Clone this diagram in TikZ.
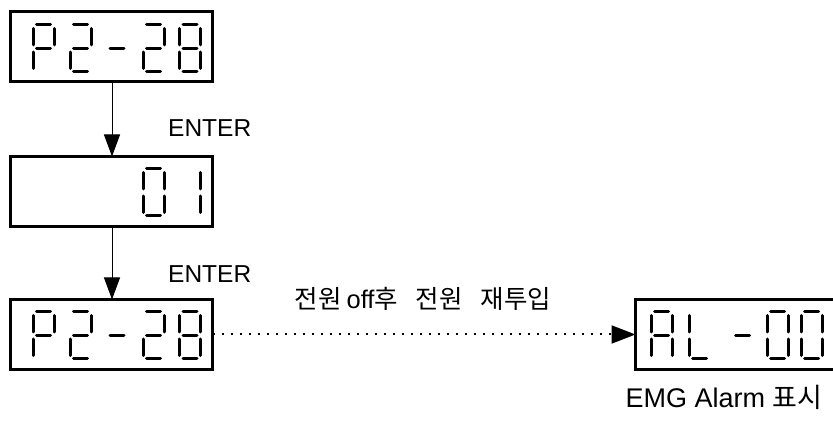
\documentclass[tikz,border=0pt]{standalone}
\usepackage{fontspec}
\usepackage{graphicx}
\setmainfont{Liberation Sans}
\newfontfamily\kr{Noto Sans CJK KR}
\usetikzlibrary{arrows.meta}
\tikzset{
  disp/.style={draw, line width=3pt, rectangle, inner sep=0pt, outer sep=0pt, anchor=north west, minimum height=70pt},
  segl/.style={line width=3pt, line cap=round},
  flow/.style={line width=1pt, -{Triangle[length=22pt,width=16pt]}},
  dotflow/.style={line width=2pt, dash pattern=on 2pt off 7pt, -{Triangle[length=24pt,width=18pt]}},
  lbl/.style={font=\fontsize{24.5}{28}\selectfont, inner sep=0pt}
}
\def\dsega{\draw[segl] (3.5,0)--(17.5,0);}
\def\dsegb{\draw[segl] (21,3.5)--(21,20);}
\def\dsegc{\draw[segl] (21,27)--(21,43.5);}
\def\dsegd{\draw[segl] (3.5,47)--(17.5,47);}
\def\dsege{\draw[segl] (0,27)--(0,43.5);}
\def\dsegf{\draw[segl] (0,3.5)--(0,20);}
\def\dsegg{\draw[segl] (3.5,23.5)--(17.5,23.5);}
\newcommand\sevdig[3]{\begin{scope}[shift={(#1,#2)}]\foreach \s in {#3}{\csname dseg\s\endcsname}\end{scope}}
\begin{document}
\begin{tikzpicture}[x=1pt,y=-1pt]
\useasboundingbox (0,0) rectangle (833,430);
% boxes
\node[disp, minimum width=202pt] (b1) at (10.5,11.5) {};
\node[disp, minimum width=202pt] (b2) at (10.5,156.5) {};
\node[disp, minimum width=202pt] (b3) at (10.5,299.5) {};
\node[disp, minimum width=204pt] (b4) at (635.5,299.5) {};
% box 1: P2-28
\sevdig{33}{25}{a,b,f,g,e}
\sevdig{70}{25}{a,b,g,e,d}
\sevdig{106.5}{25}{g}
\sevdig{143}{25}{a,b,g,e,d}
\sevdig{179.5}{25}{a,b,c,d,e,f,g}
% box 2: 01
\sevdig{143}{169}{a,b,c,d,e,f}
\sevdig{179.5}{169}{b,c}
% box 3: P2-28
\sevdig{33}{312}{a,b,f,g,e}
\sevdig{70}{312}{a,b,g,e,d}
\sevdig{106.5}{312}{g}
\sevdig{143}{312}{a,b,g,e,d}
\sevdig{179.5}{312}{a,b,c,d,e,f,g}
% box 4: AL-00
\sevdig{651}{312}{a,b,c,e,f,g}
\sevdig{689}{312}{f,e,d}
\sevdig{732}{312}{g}
\sevdig{767}{312}{a,b,c,d,e,f}
\sevdig{801}{312}{a,b,c,d,e,f}
% connectors
\draw[flow] ([xshift=101.5pt]b1.south west) -- ([xshift=101.5pt]b2.north west);
\draw[flow] ([xshift=101.5pt]b2.south west) -- ([xshift=101.5pt]b3.north west);
\draw[dotflow] (b3.east) -- (b4.west);
% labels
\node[lbl, anchor=west] (e1) at (168,128) {ENTER};
\node[lbl, anchor=west] (e2) at (168,274) {ENTER};
\node[lbl, font=\fontsize{25.5}{28}\selectfont] (msg) at (423,299) {{\kr 전원}\hspace{5pt}off{\kr 후}\hspace{18pt}{\kr 전원}\hspace{18pt}{\kr 재투입}};
\node[lbl, font=\fontsize{27}{30}\selectfont] (emg) at (724,397) {EMG Alarm {\kr 표시}};
\end{tikzpicture}
\end{document}
